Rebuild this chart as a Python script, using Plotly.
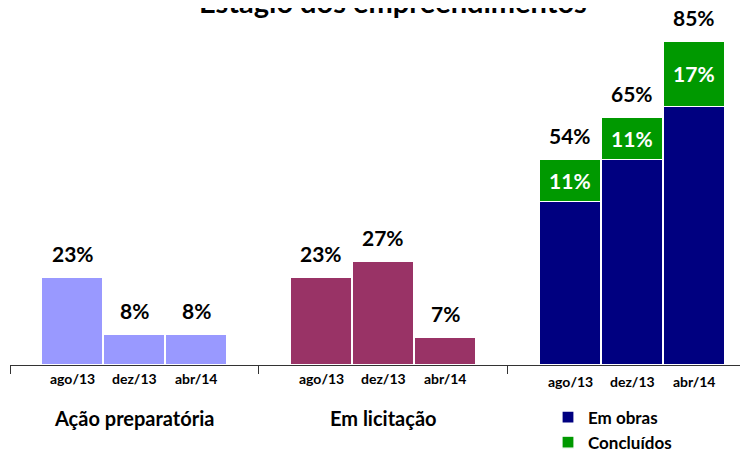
import plotly.graph_objects as go

# ---- data ----
periods = ["ago/13", "dez/13", "abr/14"]
groups = ["Ação preparatória", "Em licitação", "Em obras"]
acao_preparatoria = [23, 8, 8]
em_licitacao = [23, 27, 7]
em_obras = [43, 54, 68]
concluidos = [11, 11, 17]
totais_obras = [54, 65, 85]

FONT = "Lato"
BAR_W = 0.245
STEP = 0.249

def xpos(g):
    return [g + 0.5 + (j - 1) * STEP for j in range(len(periods))]

fig = go.Figure()
line = dict(color="white", width=1.2)
fig.add_bar(x=xpos(0), y=acao_preparatoria, width=BAR_W, marker=dict(color="#9999FF", line=line),
            showlegend=False, name=groups[0])
fig.add_bar(x=xpos(1), y=em_licitacao, width=BAR_W, marker=dict(color="#993366", line=line),
            showlegend=False, name=groups[1])
fig.add_bar(x=xpos(2), y=em_obras, width=BAR_W, marker=dict(color="#000080", line=line),
            name="Em obras")
fig.add_bar(x=xpos(2), y=concluidos, width=BAR_W, marker=dict(color="#009900", line=line),
            name="Concluídos", text=[f"{v}%" for v in concluidos], textposition="inside",
            insidetextanchor="middle", textangle=0,
            textfont=dict(family=FONT, size=21, color="white", weight="bold"))

ann = []
for g, vals in enumerate([acao_preparatoria, em_licitacao, totais_obras]):
    for x, v in zip(xpos(g), vals):
        ann.append(dict(x=x, y=v, text=f"<b>{v}%</b>", showarrow=False, yanchor="bottom",
                        yshift=10, font=dict(family=FONT, size=21, color="black")))
    for x, p in zip(xpos(g), periods):
        ann.append(dict(x=x, y=0, text=f"<b>{p}</b>", showarrow=False, yanchor="top",
                        yshift=-3 if g < 2 else -6, font=dict(family=FONT, size=14, color="black")))
    if g < 2:
        ann.append(dict(x=g + 0.5, xref="x", y=-0.158, yref="paper", text=f"<b>{groups[g]}</b>",
                        showarrow=False, yanchor="middle",
                        font=dict(family=FONT, size=20, color="black")))

ann.append(dict(x=0.5, xref="paper", y=1.086, yref="paper", text="<b>Estágio dos empreendimentos</b>",
                showarrow=False, yanchor="middle", xshift=14,
                font=dict(family=FONT, size=29, color="black")))

fig.update_layout(
    width=748, height=450,
    margin=dict(l=2, r=8, t=22, b=93, autoexpand=False),
    barmode="stack",
    bargap=0,
    plot_bgcolor="white", paper_bgcolor="white",
    annotations=ann,
    legend=dict(x=0.729, y=-0.103, xanchor="left", yanchor="top", traceorder="normal",
                font=dict(family=FONT, size=17, color="black", weight="bold"),
                itemwidth=30, tracegroupgap=0, bgcolor="rgba(0,0,0,0)"),
    xaxis=dict(range=[0, 2.964], tickvals=[0, 1, 2, 3], ticktext=["", "", "", ""],
               ticks="outside", ticklen=8, tickcolor="#333", showgrid=False, zeroline=False,
               showline=True, linecolor="#333", linewidth=1, fixedrange=True),
    yaxis=dict(range=[0, 88.2], visible=False, showgrid=False, zeroline=False),
)

fig.write_html("out.html")
